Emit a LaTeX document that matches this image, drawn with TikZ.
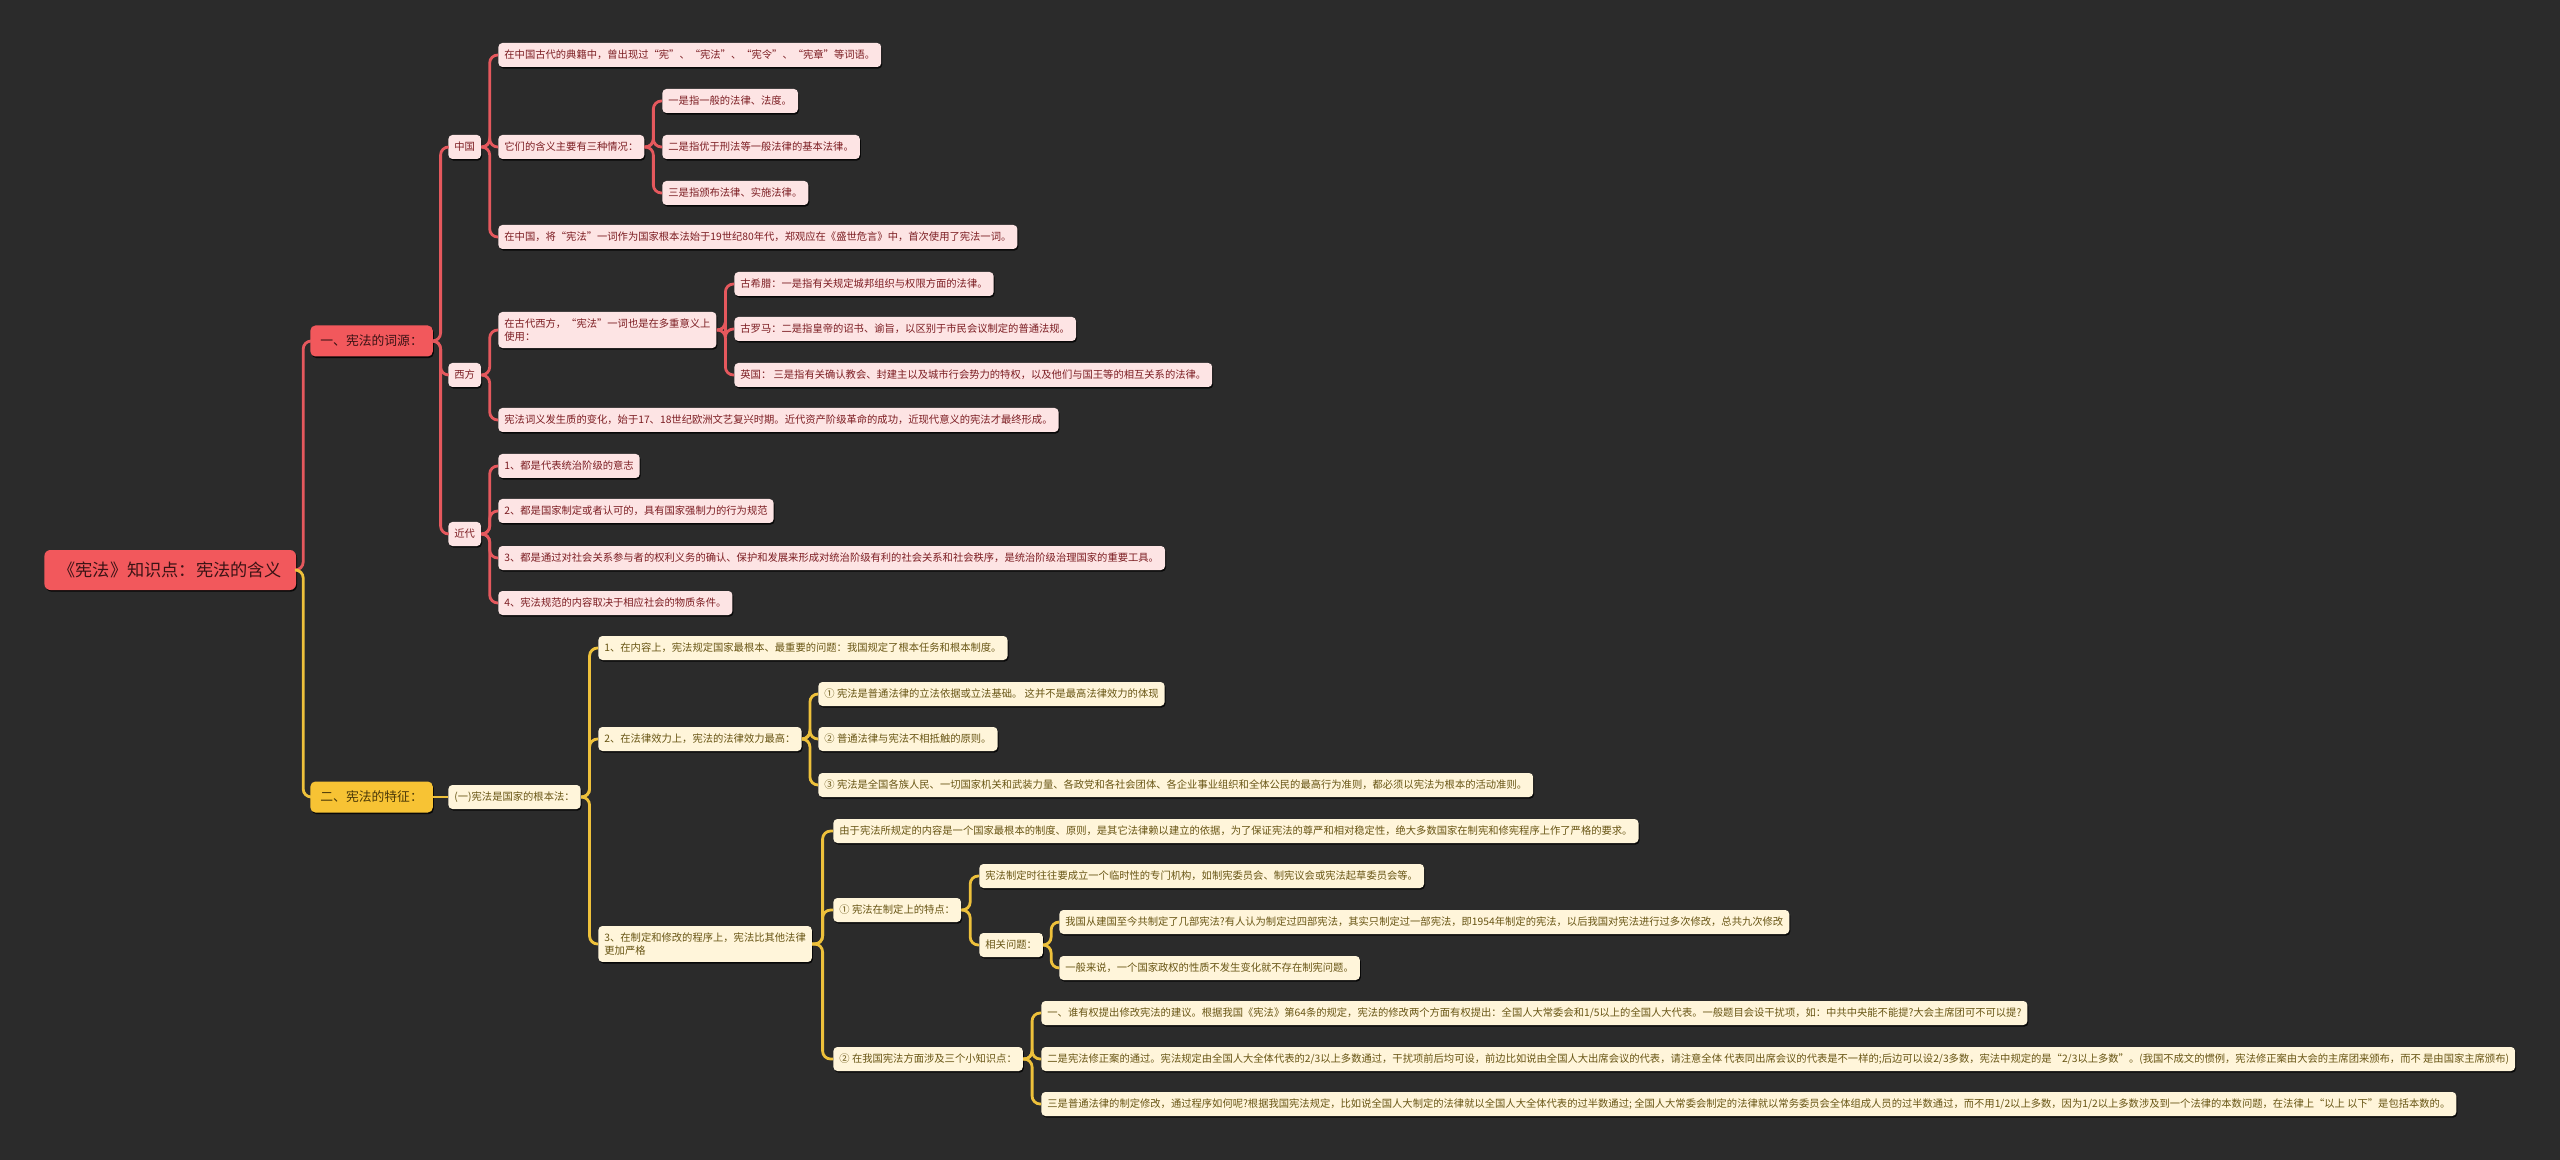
\documentclass[tikz,border=0pt]{standalone}
\usepackage{fontspec}
\setmainfont{Noto Sans CJK SC}
\usetikzlibrary{calc,shadows}
\definecolor{bgGray}{HTML}{2B2B2B}
\definecolor{rootRed}{HTML}{F2585C}
\definecolor{lineRed}{HTML}{E5585D}
\definecolor{leafPink}{HTML}{FDE4E4}
\definecolor{textRed}{HTML}{7C1D22}
\definecolor{textDark}{HTML}{3B1315}
\definecolor{mainYellow}{HTML}{F7C334}
\definecolor{lineYellow}{HTML}{EEC13B}
\definecolor{leafCream}{HTML}{FFF5DA}
\definecolor{textOlive}{HTML}{685514}
\definecolor{textBrown}{HTML}{4A3808}

\begin{document}
\begin{tikzpicture}[x=0.5pt, y=-0.5pt,
    baseBox/.style={rectangle, anchor=west, align=left, drop shadow={shadow xshift=0.5pt, shadow yshift=-0.8pt, fill=black, opacity=0.8}},
    rootBox/.style={baseBox, rounded corners=3pt, fill=rootRed, text=textDark, font=\fontsize{8.6pt}{10pt}\selectfont, inner xsep=7pt, minimum height=20pt},
    redMain/.style={baseBox, rounded corners=2.5pt, fill=rootRed, text=textDark, font=\fontsize{6.4pt}{8pt}\selectfont, inner xsep=5pt, minimum height=15.5pt},
    yellowMain/.style={redMain, fill=mainYellow, text=textBrown},
    redLeaf/.style={baseBox, rounded corners=2pt, fill=leafPink, text=textRed, font=\fontsize{5.15pt}{6.6pt}\selectfont, inner xsep=3pt, inner ysep=3.3pt, minimum height=12pt},
    yellowLeaf/.style={redLeaf, fill=leafCream, text=textOlive},
    linkRed/.style={draw=lineRed, line width=1.4pt, rounded corners=4pt},
    linkYellow/.style={linkRed, draw=lineYellow},
    elbow/.style={to path={-- ($(\tikztostart)!0.5!(\tikztostart -| \tikztotarget)$) |- (\tikztotarget)}}
]
    \fill[bgGray] (0,0) rectangle (2560,1160);
    \useasboundingbox (0,0) rectangle (2560,1160);

    \node[rootBox] (root) at (44,570) {《宪法》知识点：宪法的含义};
    \node[redMain] (etym) at (310,341) {一、宪法的词源：};
    \node[yellowMain] (feat) at (310,797) {二、宪法的特征：};

    % 词源
    \node[redLeaf] (china) at (448,147) {中国};
    \node[redLeaf] (west) at (448,375) {西方};
    \node[redLeaf] (modern) at (448,534) {近代};

    \node[redLeaf] (cnAncient) at (498,55) {在中国古代的典籍中，曾出现过“宪”、“宪法”、“宪令”、“宪章”等词语。};
    \node[redLeaf] (cnMeaning) at (498,147) {它们的含义主要有三种情况：};
    \node[redLeaf] (cnModern) at (498,237) {在中国，将“宪法”一词作为国家根本法始于19世纪80年代，郑观应在《盛世危言》中，首次使用了宪法一词。};
    \node[redLeaf] (meanOne) at (662,101) {一是指一般的法律、法度。};
    \node[redLeaf] (meanTwo) at (662,147) {二是指优于刑法等一般法律的基本法律。};
    \node[redLeaf] (meanThree) at (662,193) {三是指颁布法律、实施法律。};

    \node[redLeaf] (westUse) at (498,330) {在古代西方，“宪法”一词也是在多重意义上\\使用：};
    \node[redLeaf] (westChange) at (498,420) {宪法词义发生质的变化，始于17、18世纪欧洲文艺复兴时期。近代资产阶级革命的成功，近现代意义的宪法才最终形成。};
    \node[redLeaf] (greece) at (734,284) {古希腊：一是指有关规定城邦组织与权限方面的法律。};
    \node[redLeaf] (rome) at (734,329) {古罗马：二是指皇帝的诏书、谕旨，以区别于市民会议制定的普通法规。};
    \node[redLeaf] (england) at (734,375) {英国： 三是指有关确认教会、封建主以及城市行会势力的特权，以及他们与国王等的相互关系的法律。};

    \node[redLeaf] (modOne) at (498,466) {1、都是代表统治阶级的意志};
    \node[redLeaf] (modTwo) at (498,511) {2、都是国家制定或者认可的，具有国家强制力的行为规范};
    \node[redLeaf] (modThree) at (498,558) {3、都是通过对社会关系参与者的权利义务的确认、保护和发展来形成对统治阶级有利的社会关系和社会秩序，是统治阶级治理国家的重要工具。};
    \node[redLeaf] (modFour) at (498,603) {4、宪法规范的内容取决于相应社会的物质条件。};

    % 特征
    \node[yellowLeaf] (basicLaw) at (448,797) {(一)宪法是国家的根本法：};
    \node[yellowLeaf] (itemOne) at (598,648) {1、在内容上，宪法规定国家最根本、最重要的问题：我国规定了根本任务和根本制度。};
    \node[yellowLeaf] (itemTwo) at (598,739) {2、在法律效力上，宪法的法律效力最高：};
    \node[yellowLeaf] (itemThree) at (598,944) {3、在制定和修改的程序上，宪法比其他法律\\更加严格};

    \node[yellowLeaf] (effOne) at (818,694) {① 宪法是普通法律的立法依据或立法基础。 这并不是最高法律效力的体现};
    \node[yellowLeaf] (effTwo) at (818,739) {② 普通法律与宪法不相抵触的原则。};
    \node[yellowLeaf] (effThree) at (818,785) {③ 宪法是全国各族人民、一切国家机关和武装力量、各政党和各社会团体、各企业事业组织和全体公民的最高行为准则，都必须以宪法为根本的活动准则。};

    \node[yellowLeaf] (procIntro) at (833,831) {由于宪法所规定的内容是一个国家最根本的制度、原则，是其它法律赖以建立的依据，为了保证宪法的尊严和相对稳定性，绝大多数国家在制宪和修宪程序上作了严格的要求。};
    \node[yellowLeaf] (procMake) at (833,910) {① 宪法在制定上的特点：};
    \node[yellowLeaf] (procChina) at (833,1059) {② 在我国宪法方面涉及三个小知识点：};

    \node[yellowLeaf] (makeOrgan) at (979,876) {宪法制定时往往要成立一个临时性的专门机构，如制宪委员会、制宪议会或宪法起草委员会等。};
    \node[yellowLeaf] (makeIssue) at (979,945) {相关问题：};
    \node[yellowLeaf] (issueCount) at (1059,922) {我国从建国至今共制定了几部宪法?有人认为制定过四部宪法，其实只制定过一部宪法，即1954年制定的宪法，以后我国对宪法进行过多次修改，总共九次修改};
    \node[yellowLeaf] (issueNature) at (1059,968) {一般来说，一个国家政权的性质不发生变化就不存在制宪问题。};

    \node[yellowLeaf] (chinaOne) at (1041,1013) {一、谁有权提出修改宪法的建议。根据我国《宪法》第64条的规定，宪法的修改两个方面有权提出：全国人大常委会和1/5以上的全国人大代表。一般题目会设干扰项，如：中共中央能不能提?大会主席团可不可以提?};
    \node[yellowLeaf] (chinaTwo) at (1041,1059) {二是宪法修正案的通过。宪法规定由全国人大全体代表的2/3以上多数通过，干扰项前后均可设，前边比如说由全国人大出席会议的代表，请注意全体 代表同出席会议的代表是不一样的;后边可以设2/3多数，宪法中规定的是“2/3以上多数”。(我国不成文的惯例，宪法修正案由大会的主席团来颁布，而不 是由国家主席颁布)};
    \node[yellowLeaf] (chinaThree) at (1041,1104) {三是普通法律的制定修改，通过程序如何呢?根据我国宪法规定，比如说全国人大制定的法律就以全国人大全体代表的过半数通过; 全国人大常委会制定的法律就以常务委员会全体组成人员的过半数通过，而不用1/2以上多数，因为1/2以上多数涉及到一个法律的本数问题，在法律上“以上 以下”是包括本数的。};

    % 连线
    \draw[linkRed] (root.east) to[elbow] (etym.west);
    \draw[linkYellow] (root.east) to[elbow] (feat.west);

    \foreach \c in {china,west,modern} \draw[linkRed] (etym.east) to[elbow] (\c.west);
    \foreach \c in {cnAncient,cnMeaning,cnModern} \draw[linkRed] (china.east) to[elbow] (\c.west);
    \foreach \c in {meanOne,meanTwo,meanThree} \draw[linkRed] (cnMeaning.east) to[elbow] (\c.west);
    \foreach \c in {westUse,westChange} \draw[linkRed] (west.east) to[elbow] (\c.west);
    \foreach \c in {greece,rome,england} \draw[linkRed] (westUse.east) to[elbow] (\c.west);
    \foreach \c in {modOne,modTwo,modThree,modFour} \draw[linkRed] (modern.east) to[elbow] (\c.west);

    \draw[linkYellow] (feat.east) -- (basicLaw.west);
    \foreach \c in {itemOne,itemTwo,itemThree} \draw[linkYellow] (basicLaw.east) to[elbow] (\c.west);
    \foreach \c in {effOne,effTwo,effThree} \draw[linkYellow] (itemTwo.east) to[elbow] (\c.west);
    \foreach \c in {procIntro,procMake,procChina} \draw[linkYellow] (itemThree.east) to[elbow] (\c.west);
    \foreach \c in {makeOrgan,makeIssue} \draw[linkYellow] (procMake.east) to[elbow] (\c.west);
    \foreach \c in {issueCount,issueNature} \draw[linkYellow] (makeIssue.east) to[elbow] (\c.west);
    \foreach \c in {chinaOne,chinaTwo,chinaThree} \draw[linkYellow] (procChina.east) to[elbow] (\c.west);
\end{tikzpicture}
\end{document}
